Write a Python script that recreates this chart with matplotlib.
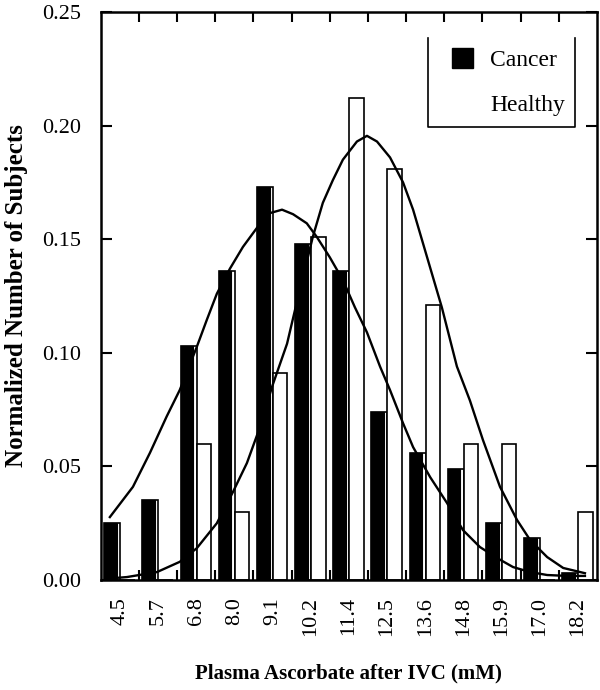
import matplotlib
matplotlib.use("Agg")
import matplotlib.pyplot as plt
from matplotlib.patches import Rectangle

plt.rcParams['font.family'] = ['Liberation Serif', 'DejaVu Serif']

# Datos
etiquetas = ["4.5", "5.7", "6.8", "8.0", "9.1", "10.2", "11.4",
             "12.5", "13.6", "14.8", "15.9", "17.0", "18.2"]
cancer = [0.025, 0.035, 0.103, 0.136, 0.173, 0.148, 0.136,
          0.074, 0.056, 0.049, 0.025, 0.0185, 0.003]
sanos = [0.0, 0.0, 0.060, 0.030, 0.091, 0.151, 0.212,
         0.181, 0.121, 0.060, 0.060, 0.0, 0.030]

# curvas ajustadas (x en mM)
curva_cancer_x = [4.20, 4.89, 5.40, 5.90, 6.29, 6.80, 7.10, 7.40, 7.79, 8.18,
                  8.60, 8.99, 9.35, 9.68, 10.09, 10.39, 10.78, 11.17, 11.53,
                  11.89, 12.28, 12.58, 12.97, 13.27, 13.78, 14.28, 14.76,
                  15.27, 15.78, 16.26, 16.77, 17.28, 17.88, 18.41]
curva_cancer_y = [0.0277, 0.041, 0.056, 0.072, 0.0836, 0.1026, 0.1145, 0.126,
                  0.137, 0.1466, 0.155, 0.1615, 0.163, 0.161, 0.157, 0.151,
                  0.142, 0.132, 0.120, 0.109, 0.094, 0.0836, 0.069, 0.0585,
                  0.0453, 0.034, 0.022, 0.0145, 0.0097, 0.0057, 0.0035,
                  0.0022, 0.0018, 0.0018]
curva_sanos_x = [4.20, 4.71, 5.61, 6.29, 6.80, 7.40, 7.88, 8.30, 8.69, 9.05,
                 9.50, 9.74, 10.27, 10.57, 10.87, 11.17, 11.59, 11.89, 12.19,
                 12.58, 12.97, 13.27, 13.57, 13.86, 14.13, 14.58, 14.97,
                 15.36, 15.87, 16.38, 16.77, 17.28, 17.76, 18.41]
curva_sanos_y = [0.0007, 0.0013, 0.0035, 0.008, 0.014, 0.025, 0.0387, 0.0515,
                 0.0673, 0.085, 0.104, 0.119, 0.151, 0.166, 0.176, 0.185,
                 0.193, 0.1955, 0.193, 0.186, 0.175, 0.163, 0.148, 0.1335,
                 0.120, 0.094, 0.079, 0.0616, 0.041, 0.0264, 0.0176, 0.0101,
                 0.0053, 0.003]

# Posiciones de los grupos (mM)
PASO = (18.2 - 4.5) / (len(etiquetas) - 1)
centros = [4.5 + i * PASO for i in range(len(etiquetas))]
bordes = [4.5 + (i + 0.5) * PASO for i in range(len(etiquetas) - 1)]

fig = plt.figure(figsize=(6, 6.9), dpi=100)
ax = fig.add_axes([0.168, 0.1594, 0.827, 0.8232])

# barras cancer: contorno + relleno negro
izq_c = [c - 0.41 * PASO for c in centros]
ax.bar(izq_c, cancer, width=0.42 * PASO, align='edge', color='white',
       edgecolor='black', linewidth=1.2, zorder=2)
ax.bar(izq_c, cancer, width=0.33 * PASO, align='edge', color='black',
       edgecolor='black', linewidth=0.8, zorder=3)
# barras sanos
izq_s = [c + 0.01 * PASO for c in centros]
ax.bar(izq_s, sanos, width=0.38 * PASO, align='edge', color='white',
       edgecolor='black', linewidth=1.2, zorder=2)

ax.plot(curva_cancer_x, curva_cancer_y, color='black', linewidth=1.7, zorder=4)
ax.plot(curva_sanos_x, curva_sanos_y, color='black', linewidth=1.7, zorder=4)

ax.set_xlim(4.5 - 0.5 * PASO, 18.2 + 0.5 * PASO)
ax.set_ylim(0, 0.25)

ax.set_xticks(centros)
ax.set_xticklabels(etiquetas, rotation=90, fontsize=16)
ax.tick_params(axis='x', which='major', length=0, pad=12)
ax.set_xticks(bordes, minor=True)
ax.tick_params(axis='x', which='minor', direction='in', length=7, width=1.5,
               top=True, bottom=True)

ax.set_yticks([0.0, 0.05, 0.10, 0.15, 0.20, 0.25])
ax.set_yticklabels(["0.00", "0.05", "0.10", "0.15", "0.20", "0.25"], fontsize=16)
ax.tick_params(axis='y', direction='in', length=8, width=1.5,
               left=True, right=True, pad=14)

for s in ax.spines.values():
    s.set_linewidth(1.8)

ax.set_xlabel("Plasma Ascorbate after IVC (mM)", fontsize=15,
              fontweight='bold', labelpad=20)
ax.set_ylabel("Normalized Number of Subjects", fontsize=18,
              fontweight='bold', labelpad=10)

# leyenda con marco abierto arriba
ax.add_patch(Rectangle((0.7077, 0.9014), 0.0423, 0.0352, transform=ax.transAxes,
                       facecolor='black', edgecolor='black', zorder=5))
ax.text(0.7843, 0.915, "Cancer", transform=ax.transAxes, fontsize=17,
        va='center', ha='left')
ax.text(0.7843, 0.836, "Healthy", transform=ax.transAxes, fontsize=17,
        va='center', ha='left')
ax.plot([0.659, 0.659, 0.956, 0.956], [0.954, 0.798, 0.798, 0.954],
        transform=ax.transAxes, color='black', linewidth=1.2, clip_on=False)

fig.savefig("out.png", dpi=100)
